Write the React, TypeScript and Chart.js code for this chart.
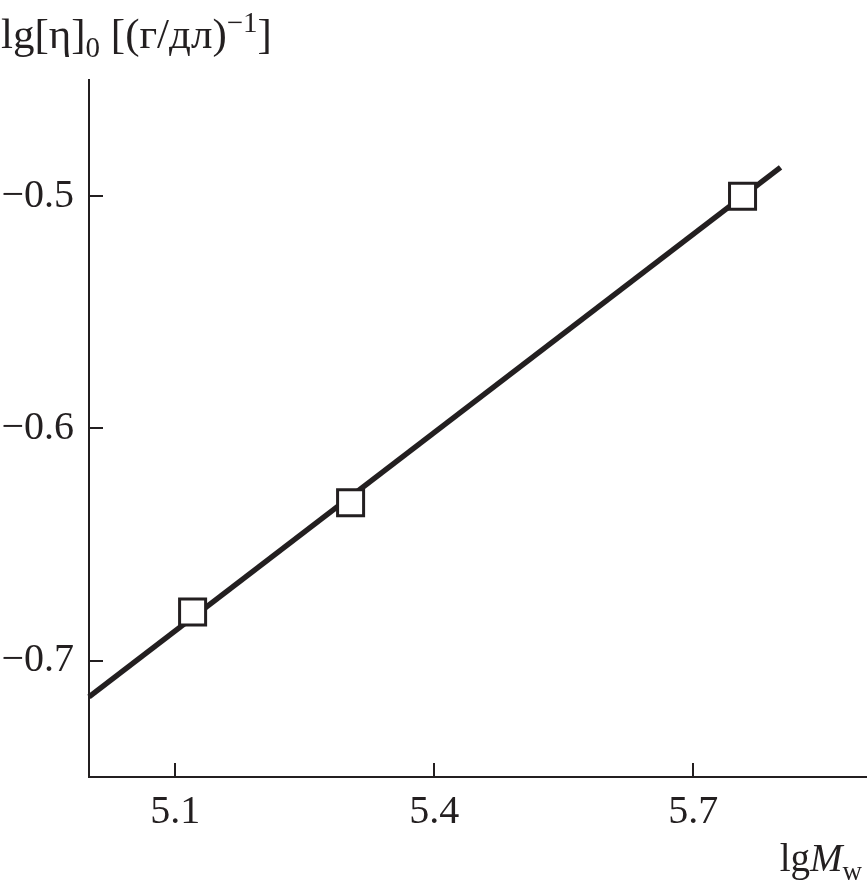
import React, { useEffect, useRef } from "react";
import { Chart, registerables } from "chart.js";

Chart.register(...registerables);

// ---- data ----
const lgMw = [5.12, 5.303, 5.757];
const lgEta = [-0.679, -0.632, -0.5];
const fitX = [5.0, 5.801];
const fitY = [-0.7155, -0.4876];
const xTicks = [5.1, 5.4, 5.7];
const yTicks = [-0.7, -0.6, -0.5];

const INK = "#231f20";
const SERIF = "'Liberation Serif', 'DejaVu Serif', serif";

Chart.defaults.font.family = SERIF;

const fmt = (v: number) => (v < 0 ? "\u2212" + Math.abs(v).toFixed(1) : v.toFixed(1));

const inwardTicks = {
  id: "inwardTicks",
  beforeDatasetsDraw(chart: any) {
    const { ctx, chartArea, scales } = chart;
    ctx.save();
    ctx.strokeStyle = INK;
    ctx.lineWidth = 2;
    const L = 14;
    xTicks.forEach((v) => {
      const x = Math.round(scales.x.getPixelForValue(v));
      ctx.beginPath();
      ctx.moveTo(x, chartArea.bottom);
      ctx.lineTo(x, chartArea.bottom - L);
      ctx.stroke();
    });
    yTicks.forEach((v) => {
      const y = Math.round(scales.y.getPixelForValue(v));
      ctx.beginPath();
      ctx.moveTo(chartArea.left, y);
      ctx.lineTo(chartArea.left + L, y);
      ctx.stroke();
    });
    ctx.restore();
  },
};

const titles = {
  id: "titles",
  afterDraw(chart: any) {
    const { ctx } = chart;
    ctx.save();
    ctx.fillStyle = INK;
    ctx.textAlign = "left";
    ctx.textBaseline = "alphabetic";
    const big = `43px ${SERIF}`;
    const small = `29px ${SERIF}`;
    // y title
    let x = 1;
    const base = 48;
    const parts: [string, string, number][] = [
      ["lg[η]", big, base],
      ["0", small, base + 9],
      [" [(г/дл)", big, base],
      ["\u22121", small, base - 16],
      ["]", big, base],
    ];
    parts.forEach(([t, f, b]) => {
      ctx.font = f;
      ctx.fillText(t, x, b);
      x += ctx.measureText(t).width;
    });
    // x title
    const xparts: [string, string, number][] = [
      ["lg", `39px ${SERIF}`, 871],
      ["M", `italic 39px ${SERIF}`, 871],
      ["w", `27px ${SERIF}`, 880],
    ];
    let total = 0;
    xparts.forEach(([t, f]) => {
      ctx.font = f;
      total += ctx.measureText(t).width;
    });
    let xx = 862 - total;
    xparts.forEach(([t, f, b]) => {
      ctx.font = f;
      ctx.fillText(t, xx, b);
      xx += ctx.measureText(t).width;
    });
    ctx.restore();
  },
};

export default function App() {
  const ref = useRef<HTMLCanvasElement>(null);
  useEffect(() => {
    if (!ref.current) return;
    const chart = new Chart(ref.current, {
      type: "scatter",
      data: {
        datasets: [
          {
            data: lgMw.map((x, i) => ({ x, y: lgEta[i] })),
            pointStyle: "rect",
            pointRadius: 18.4,
            pointBorderWidth: 3,
            pointBackgroundColor: "#ffffff",
            pointBorderColor: INK,
            showLine: false,
            clip: false,
            order: 0,
          },
          {
            data: fitX.map((x, i) => ({ x, y: fitY[i] })),
            showLine: true,
            borderColor: INK,
            borderWidth: 5.5,
            pointRadius: 0,
            clip: false,
            order: 1,
          },
        ],
      },
      options: {
        animation: false,
        responsive: false,
        devicePixelRatio: 1,
        layout: { autoPadding: false, padding: { top: 80, right: 1, left: 0, bottom: 0 } },
        plugins: { legend: { display: false }, tooltip: { enabled: false } },
        scales: {
          x: {
            type: "linear",
            min: 5.0,
            max: 5.9,
            afterBuildTicks: (s: any) => {
              s.ticks = xTicks.map((v) => ({ value: v }));
            },
            afterFit: (s: any) => {
              s.height = 117;
              s.paddingLeft = 0;
              s.paddingRight = 0;
            },
            grid: { display: false, drawTicks: false },
            border: { display: true, color: INK, width: 2 },
            ticks: {
              color: INK,
              font: { family: SERIF, size: 40 },
              padding: 11,
              maxRotation: 0,
              autoSkip: false,
              callback: (v: any) => fmt(Number(v)),
            },
          },
          y: {
            type: "linear",
            min: -0.75,
            max: -0.45,
            afterBuildTicks: (s: any) => {
              s.ticks = yTicks.map((v) => ({ value: v }));
            },
            afterFit: (s: any) => {
              s.width = 89;
              s.paddingTop = 0;
              s.paddingBottom = 0;
            },
            grid: { display: false, drawTicks: false },
            border: { display: true, color: INK, width: 2 },
            ticks: {
              color: INK,
              font: { family: SERIF, size: 40 },
              padding: 15,
              autoSkip: false,
              callback: (v: any) => fmt(Number(v)),
            },
          },
        },
      },
      plugins: [inwardTicks, titles],
    });
    return () => chart.destroy();
  }, []);
  return (
    <div style={{ position: "absolute", left: 0, top: 0, width: 867, height: 894, background: "#fff" }}>
      <canvas ref={ref} width={867} height={894} style={{ display: "block" }} />
    </div>
  );
}
